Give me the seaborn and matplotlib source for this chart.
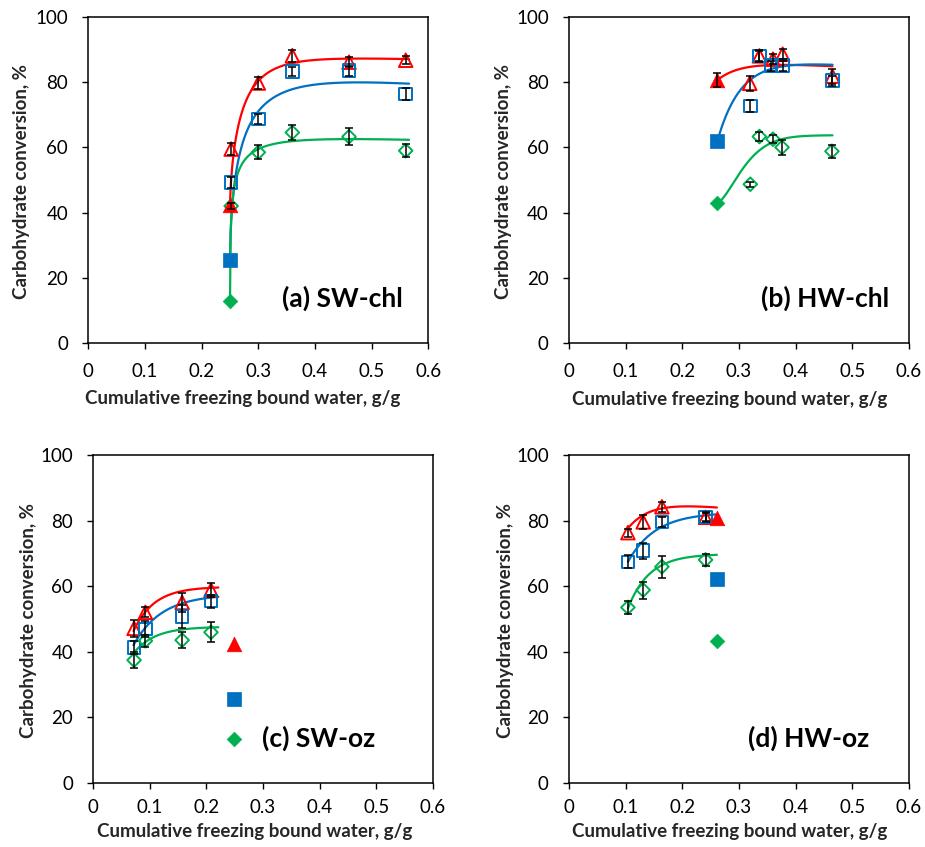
import numpy as np
import pandas as pd
import matplotlib
matplotlib.use("Agg")
import matplotlib.pyplot as plt
import seaborn as sns

# ---------------- text ----------------
x_ticks = [0, 0.1, 0.2, 0.3, 0.4, 0.5, 0.6]
x_tick_labels = ["0", "0.1", "0.2", "0.3", "0.4", "0.5", "0.6"]
y_ticks = [0, 20, 40, 60, 80, 100]
y_tick_labels = ["0", "20", "40", "60", "80", "100"]
panel_titles = ["(a) SW-chl", "(b) HW-chl", "(c) SW-oz", "(d) HW-oz"]
x_label = "Cumulative freezing bound water, g/g"
y_label = "Carbohydrate conversion, %"

# ---------------- panel (a) SW-chl ----------------
a_red_x = [0.252, 0.30, 0.36, 0.46, 0.56]
a_red_y = [59.5, 79.8, 88.2, 86.2, 86.8]
a_red_err = [1.9, 1.7, 1.8, 1.5, 1.3]
a_blue_x = [0.252, 0.30, 0.36, 0.46, 0.56]
a_blue_y = [49.2, 68.8, 83.4, 83.6, 76.5]
a_blue_err = [1.8, 1.5, 1.4, 1.5, 1.9]
a_green_x = [0.252, 0.30, 0.36, 0.46, 0.56]
a_green_y = [42.0, 58.5, 64.6, 63.3, 59.0]
a_green_err = [1.0, 2.1, 2.2, 2.7, 2.0]
a_filled_x = [0.25, 0.25, 0.25]          # red, blue, green
a_filled_y = [42.4, 25.4, 12.8]
a_filled_err = [0, 0, 0]
# fitted-curve parameters: x_start, x_end, y_start, plateau, scale, power, drift
a_red_fit = [0.25, 0.566, 42.4, 88.5, 0.0221, 0.7, -4.0]
a_blue_fit = [0.25, 0.566, 25.4, 84.0, 0.0237, 0.6, -12.3]
a_green_fit = [0.25, 0.566, 12.8, 64.5, 0.00563, 0.4, -5.7]

# ---------------- panel (b) HW-chl ----------------
b_red_x = [0.319, 0.336, 0.36, 0.377, 0.465]
b_red_y = [79.6, 88.0, 87.0, 88.5, 81.8]
b_red_err = [2.3, 1.9, 1.6, 1.6, 2.3]
b_blue_x = [0.32, 0.336, 0.356, 0.377, 0.465]
b_blue_y = [72.6, 88.0, 85.0, 85.0, 80.4]
b_blue_err = [1.8, 1.5, 1.5, 1.5, 1.5]
b_green_x = [0.32, 0.336, 0.36, 0.376, 0.464]
b_green_y = [48.7, 63.3, 62.5, 60.0, 58.8]
b_green_err = [0.8, 1.3, 1.2, 2.2, 2.0]
b_filled_x = [0.262, 0.262, 0.262]
b_filled_y = [80.6, 62.0, 42.9]
b_filled_err = [2.2, 0, 0]
b_red_fit = [0.262, 0.465, 80.6, 86.5, 0.04, 1.0, -8.0]
b_blue_fit = [0.262, 0.465, 62.0, 87.5, 0.0412, 1.0, -10.0]
b_green_fit = [0.262, 0.465, 43.0, 63.7, 0.0565, 1.5, 0.0]

# ---------------- panel (c) SW-oz ----------------
c_red_x = [0.072, 0.092, 0.157, 0.208]
c_red_y = [47.1, 52.0, 55.0, 58.8]
c_red_err = [2.5, 1.5, 3.0, 2.0]
c_blue_x = [0.072, 0.092, 0.157, 0.208]
c_blue_y = [41.3, 46.9, 50.7, 55.4]
c_blue_err = [2.0, 2.5, 3.5, 2.0]
c_green_x = [0.072, 0.092, 0.157, 0.208]
c_green_y = [37.4, 43.3, 43.5, 45.9]
c_green_err = [2.4, 1.8, 2.4, 3.0]
c_filled_x = [0.249, 0.249, 0.249]
c_filled_y = [42.3, 25.5, 13.2]
c_filled_err = [0, 0, 0]
c_red_fit = [0.071, 0.221, 46.3, 59.8, 0.037, 1.0, 0.0]
c_blue_fit = [0.071, 0.221, 42.0, 57.5, 0.05, 1.0, 0.0]
c_green_fit = [0.071, 0.221, 39.5, 47.6, 0.038, 1.0, 0.0]

# ---------------- panel (d) HW-oz ----------------
d_red_x = [0.104, 0.131, 0.164, 0.241]
d_red_y = [76.3, 79.6, 84.2, 81.0]
d_red_err = [1.2, 2.2, 1.5, 1.5]
d_blue_x = [0.104, 0.131, 0.164, 0.241]
d_blue_y = [67.4, 70.8, 79.6, 81.0]
d_blue_err = [2.0, 2.4, 1.5, 1.2]
d_green_x = [0.104, 0.131, 0.164, 0.241]
d_green_y = [53.5, 58.8, 65.9, 68.0]
d_green_err = [2.0, 2.6, 3.3, 1.8]
d_filled_x = [0.262, 0.262, 0.262]
d_filled_y = [80.7, 62.2, 43.2]
d_filled_err = [0, 0, 0]
d_red_fit = [0.104, 0.261, 77.6, 86.5, 0.0388, 1.0, -15.0]
d_blue_fit = [0.104, 0.261, 67.4, 82.5, 0.0488, 1.0, 0.0]
d_green_fit = [0.104, 0.261, 53.2, 69.8, 0.0379, 1.0, 0.0]

# ---------------- style ----------------
sns.set_theme(style="ticks")
plt.rcParams["font.family"] = ["Lato", "DejaVu Sans"]

RED = "#FF0000"
BLUE = "#0070C0"
GREEN = "#00B050"

panels = [
    dict(series=[(a_red_x, a_red_y, a_red_err, a_red_fit),
                 (a_blue_x, a_blue_y, a_blue_err, a_blue_fit),
                 (a_green_x, a_green_y, a_green_err, a_green_fit)],
         filled=(a_filled_x, a_filled_y, a_filled_err),
         rect=[0.0955, 0.5954, 0.3676, 0.3842], title_xy=(0.341, 13.7),
         xlab=(0.455, -0.172), ylab=-0.198, xpad=10),
    dict(series=[(b_red_x, b_red_y, b_red_err, b_red_fit),
                 (b_blue_x, b_blue_y, b_blue_err, b_blue_fit),
                 (b_green_x, b_green_y, b_green_err, b_green_fit)],
         filled=(b_filled_x, b_filled_y, b_filled_err),
         rect=[0.6151, 0.5947, 0.3676, 0.3856], title_xy=(0.338, 13.7),
         xlab=(0.474, -0.172), ylab=-0.194, xpad=10),
    dict(series=[(c_red_x, c_red_y, c_red_err, c_red_fit),
                 (c_blue_x, c_blue_y, c_blue_err, c_blue_fit),
                 (c_green_x, c_green_y, c_green_err, c_green_fit)],
         filled=(c_filled_x, c_filled_y, c_filled_err),
         rect=[0.1009, 0.0759, 0.3669, 0.3869], title_xy=(0.298, 13.6),
         xlab=(0.476, -0.149), ylab=-0.192, xpad=7),
    dict(series=[(d_red_x, d_red_y, d_red_err, d_red_fit),
                 (d_blue_x, d_blue_y, d_blue_err, d_blue_fit),
                 (d_green_x, d_green_y, d_green_err, d_green_fit)],
         filled=(d_filled_x, d_filled_y, d_filled_err),
         rect=[0.6151, 0.0759, 0.3676, 0.3869], title_xy=(0.316, 13.6),
         xlab=(0.474, -0.149), ylab=-0.188, xpad=7),
]

colors = [RED, BLUE, GREEN]
open_markers = ["^", "s", "D"]
open_sizes = [95, 80, 48]
filled_sizes = [110, 90, 55]


def fitted_curve(params, n=300):
    x0, x1, y0, plateau, scale, power, drift = params
    xs = np.linspace(x0, x1, n)
    dx = xs - x0
    ys = y0 + (plateau - y0) * (1 - np.exp(-(dx / scale) ** power)) + drift * dx
    return pd.DataFrame({"x": xs, "y": ys})


fig = plt.figure(figsize=(9.25, 8.47), dpi=100)

for p, title in zip(panels, panel_titles):
    ax = fig.add_axes(p["rect"])
    for (sx, sy, serr, fit), col, mk, ms in zip(p["series"], colors, open_markers, open_sizes):
        curve = fitted_curve(fit)
        sns.lineplot(data=curve, x="x", y="y", color=col, linewidth=1.6,
                     sort=False, estimator=None, ax=ax, zorder=2)
        sns.scatterplot(x=sx, y=sy, marker=mk, s=ms, facecolors="none",
                        edgecolor=col, linewidth=1.4, ax=ax, zorder=3)
        ax.errorbar(sx, sy, yerr=serr, fmt="none", ecolor="black",
                    elinewidth=1.1, capsize=2.6, capthick=1.1, zorder=4)
    fx, fy, ferr = p["filled"]
    for i, (col, mk, ms) in enumerate(zip(colors, open_markers, filled_sizes)):
        sns.scatterplot(x=[fx[i]], y=[fy[i]], marker=mk, s=ms, color=col,
                        edgecolor=col, linewidth=0.5, ax=ax, zorder=3)
        if ferr[i] > 0:
            ax.errorbar([fx[i]], [fy[i]], yerr=[ferr[i]], fmt="none", ecolor="black",
                        elinewidth=1.1, capsize=2.6, capthick=1.1, zorder=4)

    ax.set_xlim(0, 0.6)
    ax.set_ylim(0, 100)
    ax.set_xticks(x_ticks)
    ax.set_xticklabels(x_tick_labels)
    ax.set_yticks(y_ticks)
    ax.set_yticklabels(y_tick_labels)
    ax.tick_params(axis="both", direction="out", length=4.5, width=1.0,
                   colors="black", labelsize=13.5, pad=10)
    ax.tick_params(axis="x", pad=p["xpad"])
    for sp in ax.spines.values():
        sp.set_visible(True)
        sp.set_color("black")
        sp.set_linewidth(1.1)
    ax.set_xlabel(x_label, fontsize=13.5, fontweight="bold")
    ax.set_ylabel(y_label, fontsize=13.5, fontweight="bold")
    ax.xaxis.label.set_va("center")
    ax.yaxis.label.set_va("center")
    ax.xaxis.set_label_coords(p["xlab"][0], p["xlab"][1])
    ax.yaxis.set_label_coords(p["ylab"], 0.495)
    ax.text(p["title_xy"][0], p["title_xy"][1], title, fontsize=19,
            fontweight="bold", ha="left", va="center", color="black")

fig.savefig("out.png", dpi=100)
